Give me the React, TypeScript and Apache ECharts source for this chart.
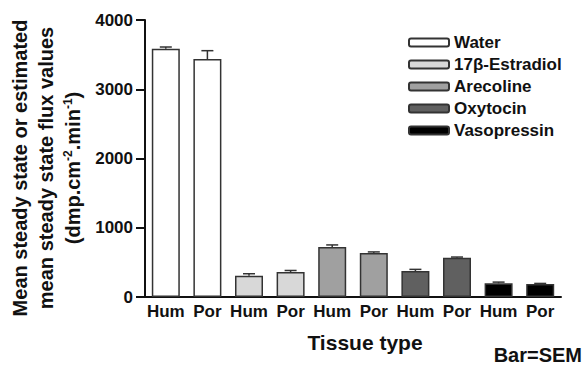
import React, { useEffect, useRef } from "react";
import * as echarts from "echarts";

const categories = ["Hum", "Por", "Hum", "Por", "Hum", "Por", "Hum", "Por", "Hum", "Por"];
const substances = ["Water", "17β-Estradiol", "Arecoline", "Oxytocin", "Vasopressin"];
const waterMeans = [3585, 3437];
const waterSem = [25, 120];
const estradiolMeans = [308, 361];
const estradiolSem = [28, 22];
const arecolineMeans = [722, 635];
const arecolineSem = [30, 16];
const oxytocinMeans = [375, 567];
const oxytocinSem = [24, 10];
const vasopressinMeans = [197, 188];
const vasopressinSem = [18, 8];
const yTicks = [0, 1000, 2000, 3000, 4000];

const colors = ["#ffffff", "#d8d8d8", "#a0a0a0", "#606060", "#000000"];
const font = "'Liberation Sans', Arial, Helvetica, sans-serif";

export default function App() {
  const ref = useRef<HTMLDivElement>(null);
  useEffect(() => {
    if (!ref.current) return;
    const chart = echarts.init(ref.current, null, { renderer: "svg" });
    const means = [waterMeans, estradiolMeans, arecolineMeans, oxytocinMeans, vasopressinMeans];
    const sems = [waterSem, estradiolSem, arecolineSem, oxytocinSem, vasopressinSem];
    const barSeries = substances.map((name, si) => {
      const data: any[] = categories.map(() => "-");
      data[si * 2] = means[si][0];
      data[si * 2 + 1] = means[si][1];
      return {
        name,
        type: "bar",
        data,
        barWidth: 28,
        barGap: "-100%",
        itemStyle: { color: colors[si], borderColor: "#333", borderWidth: 1.5 },
      };
    });
    const errData: number[][] = [];
    means.forEach((m, si) => {
      m.forEach((v, j) => errData.push([si * 2 + j, v, sems[si][j]]));
    });
    chart.setOption({
      animation: false,
      grid: { left: 145, right: 25, top: 20, bottom: 69 },
      legend: {
        orient: "vertical",
        left: 403,
        top: 29,
        itemWidth: 40,
        itemHeight: 8,
        itemGap: 5,
        data: substances,
        textStyle: { fontFamily: font, fontSize: 17, fontWeight: "bold", color: "#111", lineHeight: 17 },
      },
      xAxis: {
        type: "category",
        data: categories,
        axisLine: { lineStyle: { color: "#111", width: 2 } },
        axisTick: { show: false },
        axisLabel: { interval: 0, fontFamily: font, fontSize: 17, fontWeight: "bold", color: "#111", margin: 6 },
      },
      yAxis: {
        type: "value",
        min: yTicks[0],
        max: yTicks[yTicks.length - 1],
        interval: 1000,
        splitLine: { show: false },
        axisLine: { show: true, lineStyle: { color: "#111", width: 2 } },
        axisTick: { show: true, length: 9, lineStyle: { color: "#111", width: 2 } },
        axisLabel: {
          fontFamily: font,
          fontSize: 17,
          fontWeight: "bold",
          color: "#111",
          margin: 12,
          formatter: (v: number) => String(v),
        },
      },
      graphic: [
        {
          type: "text",
          x: 46,
          y: 168,
          rotation: Math.PI / 2,
          style: {
            text: "{t|Mean steady state or estimated}\n{t|mean steady state flux values}\n{t|(dmp.cm}{s|-2}{t|.min}{s|-1}{t|)}",
            align: "center",
            verticalAlign: "middle",
            fill: "#111",
            font: `bold 20px ${font}`,
            lineHeight: 26.5,
            rich: {
              t: { fontFamily: font, fontSize: 20, fontWeight: "bold", fill: "#111", lineHeight: 26.5 },
              s: { fontFamily: font, fontSize: 12, fontWeight: "bold", fill: "#111", lineHeight: 26.5, padding: [0, 0, 10, 0] },
            },
          },
        },
        {
          type: "text",
          x: 365,
          y: 342,
          style: {
            text: "Tissue type",
            align: "center",
            verticalAlign: "middle",
            font: `bold 21px ${font}`,
            fill: "#111",
          },
        },
        {
          type: "text",
          x: 582,
          y: 355,
          style: {
            text: "Bar=SEM",
            align: "right",
            verticalAlign: "middle",
            font: `bold 20px ${font}`,
            fill: "#111",
          },
        },
      ],
      series: [
        ...barSeries,
        {
          type: "custom",
          data: errData,
          encode: { x: 0, y: 1 },
          z: 3,
          renderItem: (params: any, api: any) => {
            const x = api.value(0);
            const m = api.value(1);
            const s = api.value(2);
            const p0 = api.coord([x, m]);
            const p1 = api.coord([x, m + s]);
            const style = { stroke: "#333", lineWidth: 1.5 };
            return {
              type: "group",
              children: [
                { type: "line", shape: { x1: p0[0], y1: p0[1], x2: p1[0], y2: p1[1] }, style },
                { type: "line", shape: { x1: p1[0] - 6, y1: p1[1], x2: p1[0] + 6, y2: p1[1] }, style },
              ],
            };
          },
        },
      ],
    });
    return () => chart.dispose();
  }, []);
  return <div ref={ref} style={{ width: 586, height: 366, position: "absolute", left: 0, top: 0 }} />;
}
